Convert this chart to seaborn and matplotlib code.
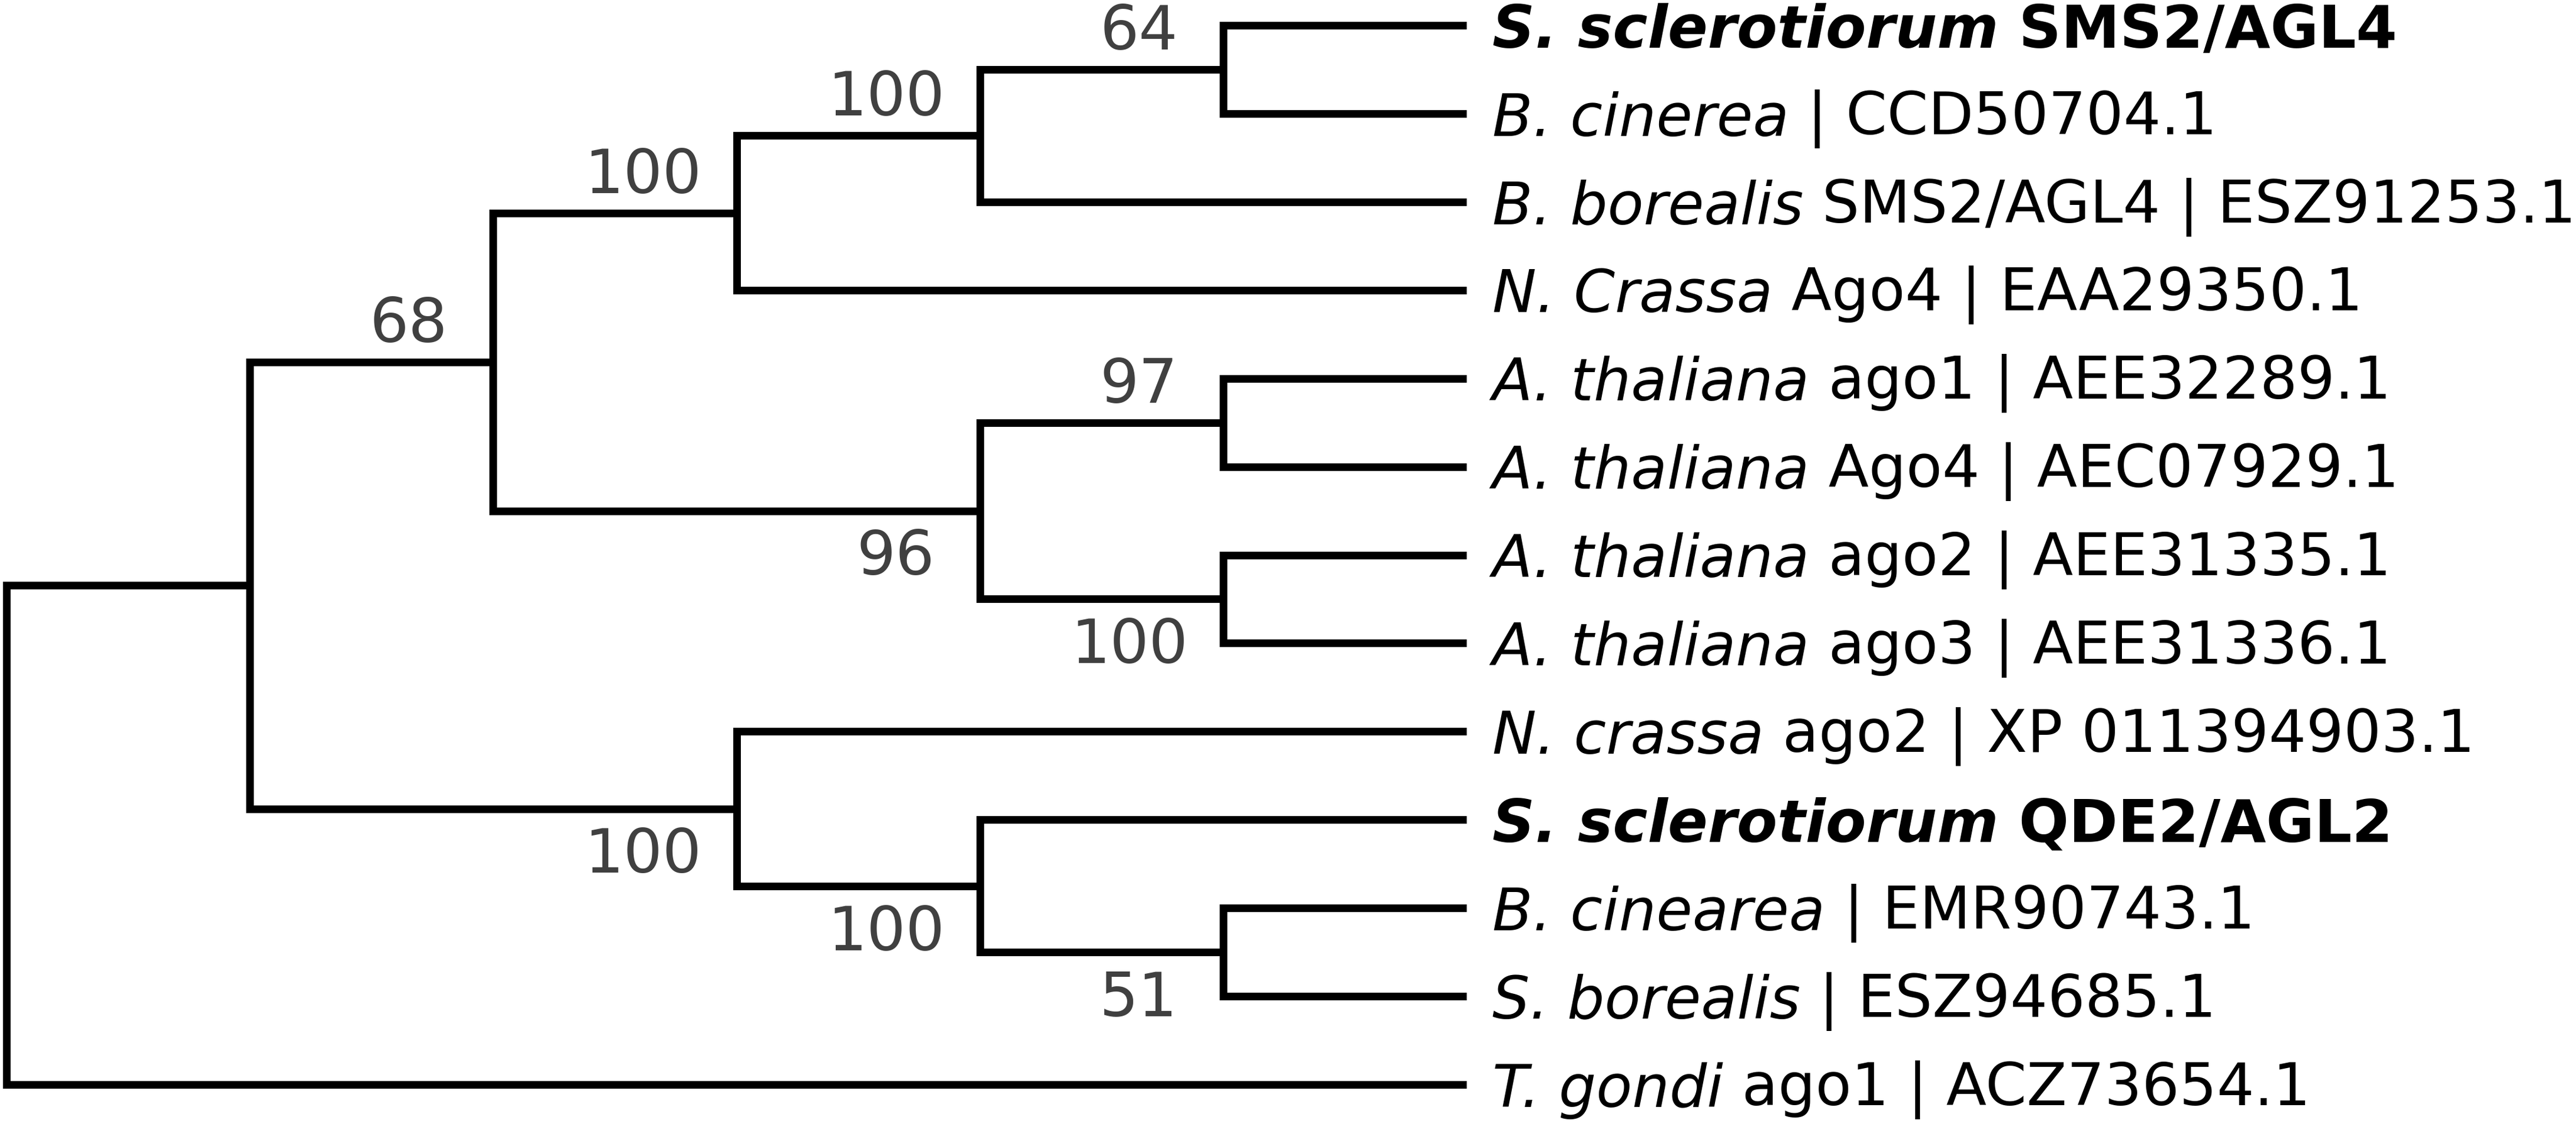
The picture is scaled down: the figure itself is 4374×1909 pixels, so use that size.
import numpy as np
import pandas as pd
import matplotlib
matplotlib.use('Agg')
import matplotlib.pyplot as plt
import seaborn as sns

# leaves, top to bottom
leaf_species = ['S. sclerotiorum', 'B. cinerea', 'B. borealis', 'N. Crassa',
                'A. thaliana', 'A. thaliana', 'A. thaliana', 'A. thaliana',
                'N. crassa', 'S. sclerotiorum', 'B. cinearea', 'S. borealis', 'T. gondi']
leaf_rest = ['SMS2/AGL4', '| CCD50704.1', 'SMS2/AGL4 | ESZ91253.1', 'Ago4 | EAA29350.1',
             'ago1 | AEE32289.1', 'Ago4 | AEC07929.1', 'ago2 | AEE31335.1', 'ago3 | AEE31336.1',
             'ago2 | XP 011394903.1', 'QDE2/AGL2', '| EMR90743.1', '| ESZ94685.1',
             'ago1 | ACZ73654.1']
highlight = [0, 9]

# internal nodes (binary), children given as upper / lower, 'L#' = leaf index
nodes = ['root', 'n1', 'n2', 'n3', 'n4', 'n5', 'n6', 'n7', 'n8', 'n9', 'n10', 'n11']
child_top = ['n1', 'n2', 'n3', 'n4', 'n5', 'L0', 'n7', 'L4', 'L6', 'L8', 'L9', 'L10']
child_bottom = ['L12', 'n9', 'n6', 'L3', 'L2', 'L1', 'n8', 'L5', 'L7', 'n10', 'n11', 'L11']
support = [None, None, 68, 100, 100, 64, 96, 97, 100, 100, 100, 51]

children = dict(zip(nodes, zip(child_top, child_bottom)))


def height(n):
    if n.startswith('L'):
        return 0
    return 1 + max(height(c) for c in children[n])


H = height('root')
pos = {}


def place(n):
    # leaves aligned on the right, nodes by subtree height
    if n.startswith('L'):
        pos[n] = (H, int(n[1:]))
        return
    for c in children[n]:
        place(c)
    pos[n] = (H - height(n), np.mean([pos[c][1] for c in children[n]]))


place('root')

# elbow path for every clade
rows = []
for n in nodes:
    top, bot = children[n]
    xn = pos[n][0]
    path = [(pos[top][0], pos[top][1]), (xn, pos[top][1]),
            (xn, pos[bot][1]), (pos[bot][0], pos[bot][1])]
    for k, (x, y) in enumerate(path):
        rows.append({'clade': n, 'step': k, 'x': x, 'y': y})
seg = pd.DataFrame(rows)

sns.set_style('white')
plt.rcParams['font.family'] = ['DejaVu Sans']

W, Hpx, DPI = 4374, 1910, 300
fig = plt.figure(figsize=(W / DPI, Hpx / DPI), dpi=DPI)
ax = fig.add_axes([0, 0, 1, 1])

sns.lineplot(data=seg, x='x', y='y', units='clade', estimator=None, sort=False,
             color='black', linewidth=3.1, solid_joinstyle='miter',
             solid_capstyle='butt', legend=False, ax=ax)

# map depth / leaf index onto the canvas
x0_px, tip_px = 11, 2490
y0_px, ylast_px = 44, 1843
sx = (tip_px - x0_px) / H
sy = (ylast_px - y0_px) / (len(leaf_species) - 1)
ax.set_xlim(-x0_px / sx, (W - x0_px) / sx)
ax.set_ylim((Hpx - y0_px) / sy, -y0_px / sy)
ax.set_axis_off()

# bootstrap values
parent_of = {}
for n in nodes:
    for c in children[n]:
        parent_of[c] = n
for n, s in zip(nodes, support):
    if s is None:
        continue
    above = children[parent_of[n]][0] == n
    # 3-digit values sit a bit closer to the node than 2-digit ones
    gap = 18.5 - 4.3 * (len(str(s)) - 2)
    ax.annotate(str(s), xy=pos[n], xytext=(-gap, 8.4 if above else -25.9),
                textcoords='offset points', ha='right', va='baseline',
                fontsize=25, color='#404040')

# leaf labels: italic species + plain rest
for i, (sp, rest) in enumerate(zip(leaf_species, leaf_rest)):
    w = 'bold' if i in highlight else 'normal'
    t = ax.annotate(sp, xy=pos[f'L{i}'], xytext=(10.5, -8.8),
                    textcoords='offset points', ha='left', va='baseline',
                    fontsize=24, style='italic', weight=w, color='black')
    ax.annotate(' ' + rest, xy=(1, 0), xycoords=t, ha='left', va='bottom',
                fontsize=24, weight=w, color='black')

fig.savefig('out.png', dpi=DPI)
